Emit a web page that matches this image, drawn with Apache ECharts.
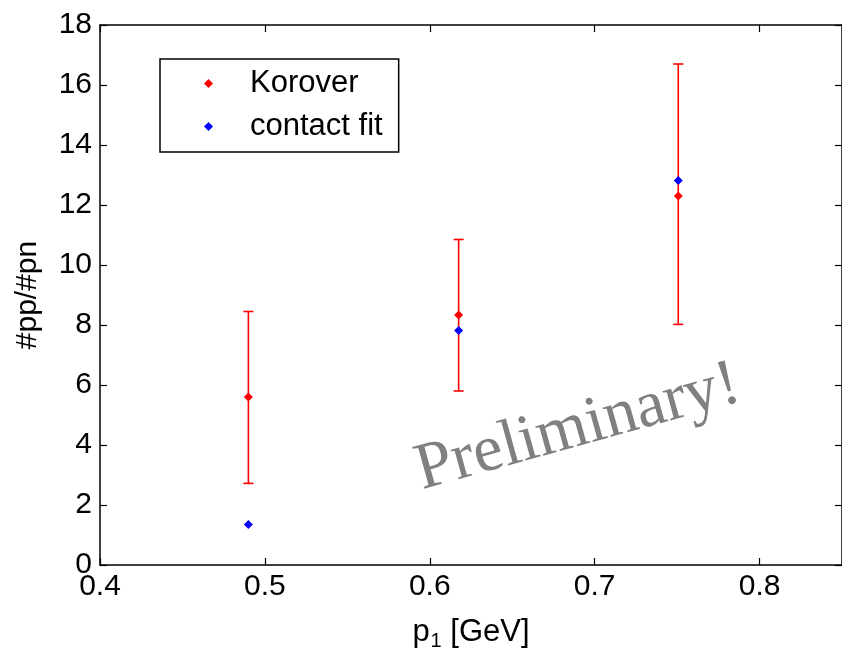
<!DOCTYPE html>
<html>
<head>
<meta charset="utf-8">
<script src="https://cdn.jsdelivr.net/npm/echarts@6/dist/echarts.min.js"></script>
<style>
  html, body { margin: 0; padding: 0; background: #fff; }
  #main { width: 842px; height: 656px; }
</style>
</head>
<body>
<div id="main"></div>
<script>
// p1 [GeV] of each point
const p1 = [0.490, 0.6175, 0.7507];
// Korover ratio with its error bar ends
const korover = [5.6, 8.33, 12.3];
const korLow = [2.72, 5.8, 8.02];
const korHigh = [8.45, 10.85, 16.7];
// contact fit
const contactFit = [1.35, 7.82, 12.82];

const xTicks = [0.4, 0.5, 0.6, 0.7, 0.8];
const yTicks = [0, 2, 4, 6, 8, 10, 12, 14, 16, 18];

const FONT = 'Liberation Sans';
const chart = echarts.init(document.getElementById('main'), null, { renderer: 'canvas' });

const tickStyle = { show: true, inside: true, length: 7, lineStyle: { color: '#000', width: 1.2 } };
const lineStyle = { show: true, onZero: false, lineStyle: { color: '#000', width: 1.5 } };

const option = {
  backgroundColor: '#ffffff',
  animation: false,
  grid: { left: 100, right: -3, top: 25, bottom: 89, containLabel: false },
  legend: {
    orient: 'vertical',
    left: 160,
    top: 59,
    padding: [9, 16, 10, 44],
    itemGap: 12,
    itemWidth: 9,
    itemHeight: 9,
    borderColor: '#000',
    borderWidth: 1.5,
    borderRadius: 0,
    data: [
      { name: 'Korover', icon: 'diamond' },
      { name: 'contact fit', icon: 'diamond' }
    ],
    textStyle: { fontFamily: FONT, fontSize: 31, color: '#000', padding: [0, 0, 0, 32] }
  },
  xAxis: [{
    type: 'value',
    min: 0.4, max: 0.85, interval: 0.1,
    name: '{a|p}{s|1}{a| [GeV]}',
    nameLocation: 'middle',
    nameGap: 48,
    nameTextStyle: {
      rich: {
        a: { fontFamily: FONT, fontSize: 31, color: '#000' },
        s: { fontFamily: FONT, fontSize: 20, color: '#000', padding: [18, 0, 0, 1] }
      }
    },
    axisLine: lineStyle,
    axisTick: tickStyle,
    splitLine: { show: false },
    axisLabel: {
      fontFamily: FONT, fontSize: 30, color: '#000', margin: 7,
      showMaxLabel: false,
      formatter: v => xTicks.some(t => Math.abs(t - v) < 1e-6) ? v.toFixed(1) : ''
    }
  }, {
    type: 'value', position: 'top',
    min: 0.4, max: 0.85, interval: 0.1,
    axisLine: lineStyle, axisTick: tickStyle,
    axisLabel: { show: false }, splitLine: { show: false }
  }],
  yAxis: [{
    type: 'value',
    min: 0, max: 18, interval: 2,
    name: '#pp/#pn',
    nameLocation: 'middle',
    nameGap: 57,
    nameTextStyle: { fontFamily: FONT, fontSize: 30, color: '#000' },
    axisLine: lineStyle,
    axisTick: tickStyle,
    splitLine: { show: false },
    axisLabel: {
      fontFamily: FONT, fontSize: 30, color: '#000', margin: 8,
      formatter: v => yTicks.includes(v) ? String(v) : ''
    }
  }, {
    type: 'value', position: 'right',
    min: 0, max: 18, interval: 2,
    axisLine: lineStyle, axisTick: tickStyle,
    axisLabel: { show: false }, splitLine: { show: false }
  }],
  series: [
    {
      name: 'errors',
      type: 'custom',
      silent: true,
      z: 2,
      encode: { x: 0, y: [1, 2] },
      data: p1.map((x, i) => [x, korLow[i], korHigh[i]]),
      renderItem: function (params, api) {
        const x = api.value(0);
        const lo = api.coord([x, api.value(1)]);
        const hi = api.coord([x, api.value(2)]);
        const half = 5;
        const style = { stroke: '#ff0000', lineWidth: 1.6 };
        return {
          type: 'group',
          children: [
            { type: 'line', shape: { x1: lo[0], y1: lo[1], x2: hi[0], y2: hi[1] }, style: style },
            { type: 'line', shape: { x1: lo[0] - half, y1: lo[1], x2: lo[0] + half, y2: lo[1] }, style: style },
            { type: 'line', shape: { x1: hi[0] - half, y1: hi[1], x2: hi[0] + half, y2: hi[1] }, style: style }
          ]
        };
      }
    },
    {
      name: 'Korover',
      type: 'scatter',
      z: 3,
      symbol: 'diamond',
      symbolSize: 9,
      itemStyle: { color: '#ff0000', opacity: 1 },
      data: p1.map((x, i) => [x, korover[i]])
    },
    {
      name: 'contact fit',
      type: 'scatter',
      z: 4,
      symbol: 'diamond',
      symbolSize: 9,
      itemStyle: { color: '#0000ff', opacity: 1 },
      data: p1.map((x, i) => [x, contactFit[i]])
    }
  ],
  graphic: [{
    type: 'text',
    x: 578,
    y: 428,
    rotation: 15.5 * Math.PI / 180,
    z: 10,
    style: {
      text: 'Preliminary!',
      fontFamily: 'Liberation Serif',
      fontSize: 66,
      fill: '#808080',
      align: 'center',
      verticalAlign: 'middle'
    }
  }]
};

chart.setOption(option);
</script>
</body>
</html>
